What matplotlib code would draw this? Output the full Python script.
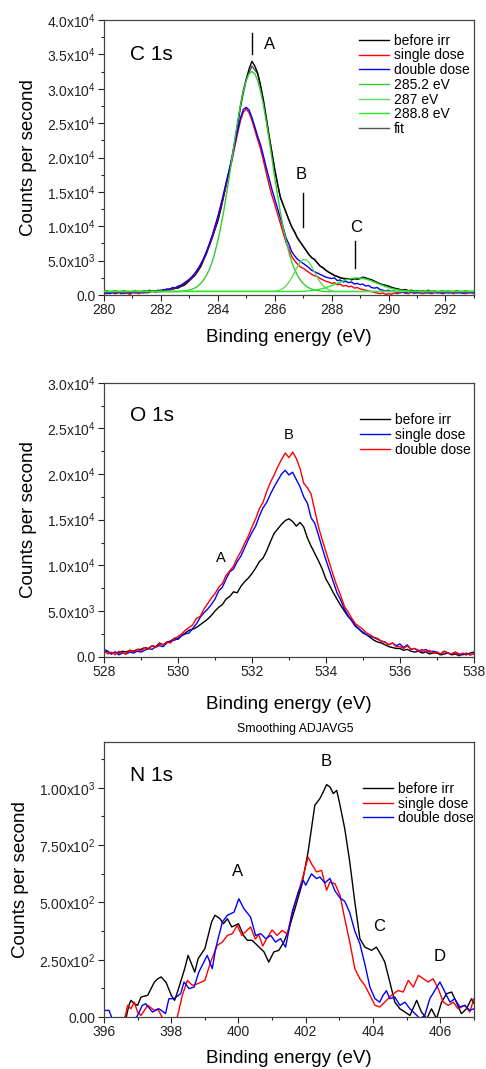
import numpy as np
import matplotlib
matplotlib.use("Agg")
import matplotlib.pyplot as plt
from matplotlib.ticker import MultipleLocator

plt.rcParams['font.family'] = ['Liberation Sans', 'DejaVu Sans']
plt.rcParams['mathtext.fontset'] = 'custom'
plt.rcParams['mathtext.rm'] = 'Liberation Sans'
plt.rcParams['mathtext.default'] = 'regular'

# ---------------- C 1s (counts in units of 1000 cps) ----------------
c1s_start, c1s_step = 280.0, 0.1
c1s_before = [
    0.5, 0.6, 0.4, 0.5, 0.6, 0.4, 0.5, 0.6, 0.5, 0.4,
    0.5, 0.6, 0.5, 0.4, 0.6, 0.5, 0.7, 0.5, 0.6, 0.7,
    0.6, 0.8, 0.7, 0.9, 0.8, 1.1, 1.0, 1.3, 1.4, 1.7,
    2.1, 2.5, 2.9, 3.5, 4.2, 5.2, 6.1, 7.3, 8.4, 9.6,
    10.8, 12.4, 14.3, 16.2, 18.0, 19.8, 22.3, 25.0, 27.6, 29.8,
    31.4, 32.9, 34.0, 33.3, 32.3, 30.6, 28.4, 25.9, 23.2, 20.8,
    18.3, 16.1, 14.2, 13.1, 12.0, 10.9, 9.9, 9.2, 8.3, 7.7,
    7.1, 6.5, 5.9, 5.4, 5.2, 4.7, 4.2, 4.0, 3.6, 3.3,
    3.1, 2.8, 2.7, 2.5, 2.4, 2.3, 2.4, 2.2, 2.4, 2.3,
    2.4, 2.6, 2.5, 2.3, 2.2, 2.0, 1.8, 1.6, 1.5, 1.4,
    1.3, 1.1, 1.0, 0.9, 0.8, 0.7, 0.8, 0.6, 0.7, 0.6,
    0.6, 0.5, 0.6, 0.5, 0.7, 0.5, 0.6, 0.4, 0.5, 0.6,
    0.5, 0.6, 0.4, 0.5, 0.6, 0.5, 0.4, 0.6, 0.5, 0.5,
    0.4]
c1s_single = [
    0.3, 0.2, 0.4, 0.3, 0.2, 0.3, 0.4, 0.2, 0.3, 0.1,
    0.3, 0.4, 0.2, 0.3, 0.5, 0.3, 0.4, 0.6, 0.4, 0.5,
    0.5, 0.6, 0.8, 0.7, 0.9, 1.0, 1.2, 1.4, 1.6, 1.9,
    2.2, 2.6, 3.1, 3.7, 4.4, 5.3, 6.2, 7.3, 8.5, 9.8,
    11.2, 12.8, 14.4, 16.2, 17.9, 19.6, 21.7, 23.6, 25.4, 26.6,
    27.1, 26.5, 25.4, 24.0, 22.6, 21.3, 19.6, 17.8, 16.1, 14.5,
    13.2, 11.8, 10.4, 9.0, 7.6, 6.7, 5.6, 5.0, 4.5, 4.1,
    3.9, 3.6, 3.3, 3.0, 2.8, 2.7, 2.4, 2.2, 2.0, 1.9,
    1.7, 1.8, 1.5, 1.6, 1.3, 1.4, 1.2, 1.3, 1.0, 1.1,
    0.9, 0.8, 0.7, 0.6, 0.5, 0.4, 0.3, 0.2, 0.3, 0.1,
    0.2, 0.1, 0.3, 0.2, 0.3, 0.4, 0.3, 0.2, 0.4, 0.3,
    0.3, 0.4, 0.2, 0.3, 0.4, 0.2, 0.3, 0.4, 0.3, 0.2,
    0.3, 0.4, 0.3, 0.2, 0.4, 0.3, 0.3, 0.2, 0.4, 0.3,
    0.3]
c1s_double = [
    0.4, 0.3, 0.2, 0.4, 0.3, 0.5, 0.2, 0.3, 0.4, 0.3,
    0.4, 0.3, 0.5, 0.4, 0.3, 0.5, 0.4, 0.6, 0.5, 0.6,
    0.7, 0.6, 0.9, 0.8, 1.1, 1.0, 1.3, 1.4, 1.7, 2.0,
    2.3, 2.7, 3.2, 3.8, 4.5, 5.3, 6.3, 7.4, 8.6, 10.0,
    11.4, 13.0, 14.7, 16.5, 18.2, 20.0, 22.0, 24.0, 25.8, 27.0,
    27.3, 26.9, 25.8, 24.5, 23.1, 21.9, 20.3, 18.6, 17.0, 15.4,
    14.0, 12.6, 11.2, 9.8, 8.3, 7.4, 6.3, 5.7, 5.2, 4.9,
    4.6, 4.3, 4.0, 3.6, 3.4, 3.2, 3.0, 2.8, 2.6, 2.5,
    2.4, 2.5, 2.1, 2.2, 1.9, 2.0, 1.8, 1.9, 1.6, 1.7,
    1.5, 1.6, 1.3, 1.4, 1.1, 1.0, 1.1, 0.8, 0.7, 0.6,
    0.7, 0.5, 0.6, 0.4, 0.5, 0.4, 0.3, 0.5, 0.4, 0.3,
    0.4, 0.3, 0.5, 0.4, 0.3, 0.4, 0.5, 0.3, 0.4, 0.3,
    0.4, 0.3, 0.4, 0.5, 0.3, 0.4, 0.3, 0.4, 0.3, 0.4,
    0.3]
# fitted components
c1s_g1_start, c1s_g1_step = 282.6, 0.1
c1s_g1 = [0.5, 0.53, 0.59, 0.65, 0.73, 0.86, 1.04, 1.3, 1.7, 2.2, 2.85, 3.7, 4.8,
          6.2, 7.9, 9.8, 12.0, 14.5, 17.1, 19.9, 22.7, 25.3, 27.7, 29.7, 31.2, 32.2,
          32.5, 32.2, 31.2, 29.7, 27.7, 25.3, 22.7, 19.9, 17.1, 14.5, 12.0, 9.8, 7.9,
          6.2, 4.8, 3.7, 2.85, 2.2, 1.7, 1.3, 1.04, 0.86, 0.73, 0.65, 0.59, 0.53, 0.5]
c1s_g2_start, c1s_g2_step = 286.0, 0.1
c1s_g2 = [0.55, 0.62, 0.75, 0.98, 1.35, 1.88, 2.55, 3.35, 4.15, 4.78, 5.15,
          5.15, 4.78, 4.15, 3.35, 2.55, 1.88, 1.35, 0.98, 0.75, 0.62, 0.55]
c1s_g3_start, c1s_g3_step = 286.7, 0.2
c1s_g3 = [0.51, 0.53, 0.57, 0.65, 0.77, 0.96, 1.22, 1.54, 1.89, 2.2, 2.42, 2.5,
          2.42, 2.2, 1.89, 1.54, 1.22, 0.96, 0.77, 0.65, 0.57, 0.53, 0.51]
c1s_fit_start, c1s_fit_step = 280.0, 0.2
c1s_fit = [0.5, 0.5, 0.5, 0.5, 0.5, 0.5, 0.5, 0.55, 0.6, 0.6,
           0.65, 0.7, 0.85, 1.05, 1.4, 2.1, 2.9, 4.1, 6.0, 8.2,
           10.8, 14.2, 18.0, 22.3, 27.4, 31.3, 33.3, 32.2, 28.4, 23.2,
           18.3, 14.2, 12.0, 9.9, 8.3, 7.1, 5.9, 5.1, 4.2, 3.6,
           3.1, 2.7, 2.45, 2.35, 2.35, 2.4, 2.45, 2.25, 1.85, 1.5,
           1.3, 1.0, 0.8, 0.7, 0.62, 0.58, 0.55, 0.52, 0.5, 0.5,
           0.5, 0.5, 0.5, 0.5, 0.5, 0.5]

# ---------------- O 1s (units of 1000 cps) ----------------
o1s_start, o1s_step = 528.0, 0.1
o1s_before = [
    0.4, 0.6, 0.3, 0.5, 0.4, 0.6, 0.5, 0.7, 0.6, 0.8,
    0.8, 1.0, 0.9, 1.2, 1.1, 1.5, 1.3, 1.6, 1.7, 2.0,
    1.9, 2.3, 2.6, 2.9, 3.0, 3.2, 3.5, 3.8, 4.1, 4.5,
    5.0, 5.4, 5.7, 6.3, 6.6, 7.1, 7.0, 7.7, 8.2, 8.6,
    9.1, 9.7, 10.4, 10.8, 11.6, 12.6, 13.5, 14.0, 14.5, 14.9,
    15.1, 14.8, 14.3, 14.7, 14.2, 13.0, 12.1, 11.3, 10.5, 9.6,
    8.5, 7.8, 7.0, 6.3, 5.6, 5.0, 4.4, 4.0, 3.4, 3.0,
    2.6, 2.4, 2.1, 1.8, 1.6, 1.5, 1.3, 1.1, 1.0, 0.9,
    0.9, 0.7, 0.8, 0.6, 0.5, 0.6, 0.4, 0.5, 0.3, 0.4,
    0.4, 0.2, 0.3, 0.4, 0.2, 0.3, 0.1, 0.3, 0.2, 0.4,
    0.5]
o1s_single = [
    0.8, 0.6, 0.3, 0.5, 0.2, 0.4, 0.3, 0.5, 0.4, 0.6,
    0.5, 0.7, 0.9, 0.8, 1.1, 1.2, 1.1, 1.5, 1.7, 1.8,
    2.0, 2.3, 2.5, 2.6, 3.1, 3.6, 4.3, 4.8, 5.2, 5.7,
    6.3, 7.2, 7.6, 8.5, 9.3, 9.6, 10.4, 11.0, 11.9, 12.8,
    13.6, 14.3, 15.4, 16.3, 16.9, 17.8, 18.6, 19.3, 20.0, 20.4,
    19.9, 20.2, 19.4, 18.6, 17.5, 16.8, 15.2, 14.6, 13.3, 11.9,
    10.6, 9.4, 8.2, 7.0, 6.2, 5.2, 4.5, 3.9, 3.3, 3.0,
    2.7, 2.4, 2.2, 2.1, 1.9, 1.7, 1.6, 1.3, 1.5, 1.2,
    1.4, 1.0, 1.3, 0.8, 0.9, 0.7, 0.6, 0.8, 0.5, 0.6,
    0.5, 0.3, 0.6, 0.4, 0.3, 0.5, 0.3, 0.2, 0.4, 0.2,
    0.3]
o1s_double = [
    0.7, 0.3, 0.5, 0.2, 0.6, 0.4, 0.3, 0.7, 0.5, 0.8,
    0.6, 1.0, 0.8, 1.2, 1.0, 1.4, 1.3, 1.6, 1.5, 2.0,
    2.2, 2.5, 2.9, 3.2, 3.5, 4.2, 4.4, 5.2, 5.8, 6.4,
    6.9, 7.6, 8.0, 8.9, 9.4, 9.9, 10.8, 11.5, 12.4, 13.2,
    14.2, 15.1, 16.2, 16.9, 18.1, 19.1, 19.9, 20.8, 21.6, 22.3,
    21.8, 22.4, 21.7, 20.6, 19.0, 18.5, 17.8, 16.0, 14.2, 12.8,
    11.5, 10.2, 8.9, 7.7, 6.7, 5.5, 4.9, 4.2, 3.6, 3.3,
    3.0, 2.6, 2.4, 2.1, 2.0, 1.7, 1.6, 1.3, 1.5, 1.1,
    1.1, 0.9, 1.2, 0.8, 0.9, 0.6, 0.8, 0.5, 0.7, 0.4,
    0.5, 0.3, 0.6, 0.4, 0.3, 0.5, 0.2, 0.4, 0.3, 0.2,
    0.3]

# ---------------- N 1s (cps) ----------------
n1s_before_x = [396.0, 396.3, 396.6, 396.74, 396.8, 396.9, 397.0, 397.1, 397.3, 397.5,
                397.6, 397.7, 397.85, 398.0, 398.1, 398.2, 398.4, 398.5, 398.6, 398.7,
                398.8, 399.0, 399.2, 399.3, 399.45, 399.55, 399.67, 399.8, 400.0, 400.15,
                400.26, 400.4, 400.56, 400.76, 400.9, 401.05, 401.2, 401.35, 401.5, 401.68,
                401.88, 402.07, 402.27, 402.42, 402.52, 402.62, 402.72, 402.82, 402.92, 403.0,
                403.16, 403.31, 403.46, 403.61, 403.76, 403.96, 404.1, 404.25, 404.35, 404.5,
                404.65, 404.8, 404.95, 405.1, 405.3, 405.44, 405.6, 405.74, 405.89, 406.04,
                406.19, 406.34, 406.48, 406.63, 406.78, 406.93, 407.0]
n1s_before = [-60, -80, -40, 51, 73, 58, 51, 87, 95, 153,
              167, 175, 150, 95, 73, 116, 211, 269, 233, 196,
              255, 298, 415, 444, 429, 407, 429, 393, 407, 356,
              335, 335, 313, 284, 240, 284, 291, 327, 385, 473,
              575, 720, 924, 953, 982, 1014, 1004, 975, 989, 938,
              822, 676, 502, 342, 305, 291, 305, 269, 240, 153,
              65, 36, 22, 7, 73, 22, -7, 36, -7, 65,
              102, 109, 65, 15, 36, 80, 60]
n1s_single_x = [396.0, 396.4, 396.64, 396.7, 396.8, 396.9, 397.0, 397.1, 397.3, 397.4,
                397.5, 397.6, 397.7, 397.85, 398.0, 398.18, 398.33, 398.48, 398.63, 398.78,
                399.0, 399.17, 399.37, 399.52, 399.67, 399.82, 399.96, 400.1, 400.2, 400.36,
                400.5, 400.6, 400.72, 400.85, 401.0, 401.15, 401.3, 401.45, 401.58, 401.78,
                401.93, 402.07, 402.17, 402.32, 402.47, 402.62, 402.72, 402.87, 403.02, 403.16,
                403.31, 403.46, 403.61, 403.76, 403.91, 404.06, 404.2, 404.35, 404.55, 404.75,
                404.9, 405.05, 405.2, 405.35, 405.5, 405.64, 405.79, 405.94, 406.09, 406.24,
                406.39, 406.53, 406.73, 406.88, 407.0]
n1s_single = [-100, -60, 7, 51, 36, 65, 22, 7, 51, 40,
              29, 36, 7, -40, -60, 0, 95, 160, 138, 145,
              160, 240, 313, 327, 356, 364, 400, 356, 371, 393,
              340, 360, 310, 345, 380, 356, 378, 362, 444, 545,
              618, 698, 669, 633, 640, 553, 589, 582, 531, 429,
              327, 211, 167, 138, 95, 51, 44, 65, 95, 116,
              109, 160, 131, 182, 167, 153, 167, 124, 65, 51,
              65, 36, 51, 22, 80]
n1s_double_x = [396.0, 396.15, 396.25, 396.5, 396.8, 397.0, 397.14, 397.24, 397.34, 397.44,
                397.64, 397.83, 397.93, 398.08, 398.28, 398.38, 398.53, 398.68, 398.82, 398.97,
                399.07, 399.22, 399.32, 399.52, 399.67, 399.87, 400.01, 400.16, 400.36, 400.51,
                400.66, 400.81, 400.96, 401.1, 401.25, 401.4, 401.5, 401.6, 401.78, 401.93,
                402.0, 402.17, 402.32, 402.42, 402.57, 402.72, 402.87, 403.02, 403.16, 403.31,
                403.46, 403.61, 403.76, 403.91, 404.06, 404.2, 404.3, 404.4, 404.5, 404.65,
                404.8, 404.95, 405.1, 405.25, 405.4, 405.54, 405.69, 405.84, 405.99, 406.14,
                406.29, 406.43, 406.58, 406.73, 406.88, 407.0]
n1s_double = [29, 29, -10, -60, -30, 7, 51, 58, 40, 22,
              36, 15, 80, 80, 102, 153, 124, 131, 196, 240,
              269, 211, 298, 415, 444, 458, 516, 473, 436, 356,
              364, 342, 356, 327, 342, 305, 380, 460, 545, 596,
              575, 625, 604, 611, 585, 605, 550, 520, 505, 455,
              375, 320, 230, 130, 80, 65, 95, 115, 80, 87,
              51, 65, 36, 15, -7, 7, 80, 116, 153, 109,
              65, 80, 44, 51, 29, 36]

# axis ticks / labels
c1s_yticks = [0, 5000, 10000, 15000, 20000, 25000, 30000, 35000, 40000]
c1s_ylabels = ['0.0', '5.0x10$^3$', '1.0x10$^4$', '1.5x10$^4$', '2.0x10$^4$',
               '2.5x10$^4$', '3.0x10$^4$', '3.5x10$^4$', '4.0x10$^4$']
o1s_yticks = [0, 5000, 10000, 15000, 20000, 25000, 30000]
o1s_ylabels = ['0.0', '5.0x10$^3$', '1.0x10$^4$', '1.5x10$^4$', '2.0x10$^4$',
               '2.5x10$^4$', '3.0x10$^4$']
n1s_yticks = [0, 250, 500, 750, 1000]
n1s_ylabels = ['0.00', '2.50x10$^2$', '5.00x10$^2$', '7.50x10$^2$', '1.00x10$^3$']


def grid_x(start, step, vals):
    return start + step * np.arange(len(vals))


def style_axes(ax, xlim, ylim, yticks, ylabels, yminor, ylab_x, xlab_y):
    ax.set_xlim(*xlim)
    ax.set_ylim(*ylim)
    ax.xaxis.set_major_locator(MultipleLocator(2))
    ax.xaxis.set_minor_locator(MultipleLocator(1))
    ax.set_yticks(yticks)
    ax.set_yticklabels(ylabels)
    ax.yaxis.set_minor_locator(MultipleLocator(yminor))
    ax.tick_params(which='both', direction='out', top=False, right=False,
                   labelsize=10, colors='#222222')
    ax.tick_params(which='major', length=4, width=0.8, pad=2)
    ax.tick_params(which='minor', length=2.2, width=0.8)
    for sp in ax.spines.values():
        sp.set_color('#444444')
        sp.set_linewidth(0.9)
    ax.set_xlabel('Binding energy (eV)', fontsize=13.5)
    ax.set_ylabel('Counts per second', fontsize=13.5)
    ax.xaxis.set_label_coords(0.5, xlab_y)
    ax.yaxis.set_label_coords(ylab_x, 0.5)


fig = plt.figure(figsize=(4.86, 10.69), dpi=100)
ax1 = fig.add_axes([0.214, 0.724, 0.761, 0.2573])
ax2 = fig.add_axes([0.214, 0.3857, 0.761, 0.2563])
ax3 = fig.add_axes([0.214, 0.0486, 0.761, 0.2573])

lw = 1.0
green1, green2, green3 = '#33cc33', '#5cdc5c', '#22ee22'

# ---- C 1s ----
ax1.plot(grid_x(c1s_fit_start, c1s_fit_step, c1s_fit), np.array(c1s_fit) * 1000,
         color='#555555', lw=lw, zorder=1)
ax1.plot(grid_x(c1s_start, c1s_step, c1s_before), np.array(c1s_before) * 1000,
         color='black', lw=lw, zorder=2)
ax1.plot(grid_x(c1s_start, c1s_step, c1s_single), np.array(c1s_single) * 1000,
         color='#ff0000', lw=lw, zorder=3)
ax1.plot(grid_x(c1s_start, c1s_step, c1s_double), np.array(c1s_double) * 1000,
         color='#0000ff', lw=lw, zorder=3)
for start, step, vals, col in [(c1s_g1_start, c1s_g1_step, c1s_g1, green1),
                               (c1s_g2_start, c1s_g2_step, c1s_g2, green2),
                               (c1s_g3_start, c1s_g3_step, c1s_g3, green3)]:
    xs = np.concatenate([[280.0], grid_x(start, step, vals), [293.0]])
    ys = np.concatenate([[vals[0]], vals, [vals[-1]]]) * 1000
    ax1.plot(xs, ys, color=col, lw=lw, zorder=4)

style_axes(ax1, (280, 293), (0, 40000), c1s_yticks, c1s_ylabels, 2500, -0.181, -0.125)
ax1.text(280.9, 35000, 'C 1s', fontsize=15, ha='left', va='center')
ax1.text(285.83, 36400, 'A', fontsize=12, ha='center', va='center')
ax1.plot([285.21, 285.21], [35000, 38100], color='black', lw=lw)
ax1.text(286.92, 17500, 'B', fontsize=12, ha='center', va='center')
ax1.plot([287.0, 287.0], [9950, 14900], color='black', lw=lw)
ax1.text(288.85, 9800, 'C', fontsize=12, ha='center', va='center')
ax1.plot([288.82, 288.82], [3900, 7800], color='black', lw=lw)

h1 = [plt.Line2D([], [], color=c, lw=lw) for c in
      ['black', '#ff0000', '#0000ff', green1, green2, green3, '#555555']]
ax1.legend(h1, ['before irr', 'single dose', 'double dose', '285.2 eV', '287 eV',
                '288.8 eV', 'fit'], loc='upper left', bbox_to_anchor=(0.689, 0.95),
           frameon=False, fontsize=10, borderpad=0, borderaxespad=0,
           labelspacing=0.05, handlelength=2.2, handletextpad=0.3)

# ---- O 1s ----
ax2.plot(grid_x(o1s_start, o1s_step, o1s_before), np.array(o1s_before) * 1000,
         color='black', lw=lw)
ax2.plot(grid_x(o1s_start, o1s_step, o1s_single), np.array(o1s_single) * 1000,
         color='#0000ff', lw=lw)
ax2.plot(grid_x(o1s_start, o1s_step, o1s_double), np.array(o1s_double) * 1000,
         color='#ff0000', lw=lw)
style_axes(ax2, (528, 538), (0, 30000), o1s_yticks, o1s_ylabels, 2500, -0.181, -0.142)
ax2.text(528.7, 26400, 'O 1s', fontsize=15, ha='left', va='center')
ax2.text(531.15, 10800, 'A', fontsize=10.5, ha='center', va='center')
ax2.text(533.0, 24300, 'B', fontsize=10.5, ha='center', va='center')
ax2.legend(['before irr', 'single dose', 'double dose'], loc='upper left',
           bbox_to_anchor=(0.692, 0.889), frameon=False, fontsize=10, borderpad=0,
           borderaxespad=0, labelspacing=0.05, handlelength=2.2, handletextpad=0.3)

# ---- N 1s ----
ax3.plot(n1s_before_x, n1s_before, color='black', lw=lw)
ax3.plot(n1s_single_x, n1s_single, color='#ff0000', lw=lw)
ax3.plot(n1s_double_x, n1s_double, color='#0000ff', lw=lw)
style_axes(ax3, (396, 407), (0, 1200), n1s_yticks, n1s_ylabels, 125, -0.203, -0.121)
ax3.text(396.77, 1055, 'N 1s', fontsize=15, ha='left', va='center')
for lab, x, y in [('A', 399.96, 637), ('B', 402.62, 1114), ('C', 404.18, 394), ('D', 405.97, 265)]:
    ax3.text(x, y, lab, fontsize=12, ha='center', va='center')
ax3.legend(['before irr', 'single dose', 'double dose'], loc='upper left',
           bbox_to_anchor=(0.70, 0.855), frameon=False, fontsize=10, borderpad=0,
           borderaxespad=0, labelspacing=0.05, handlelength=2.2, handletextpad=0.3)
fig.text(295 / 486, 1 - 729 / 1069, 'Smoothing ADJAVG5', fontsize=8.8,
         ha='center', va='center')

fig.savefig('out.png', dpi=100)
